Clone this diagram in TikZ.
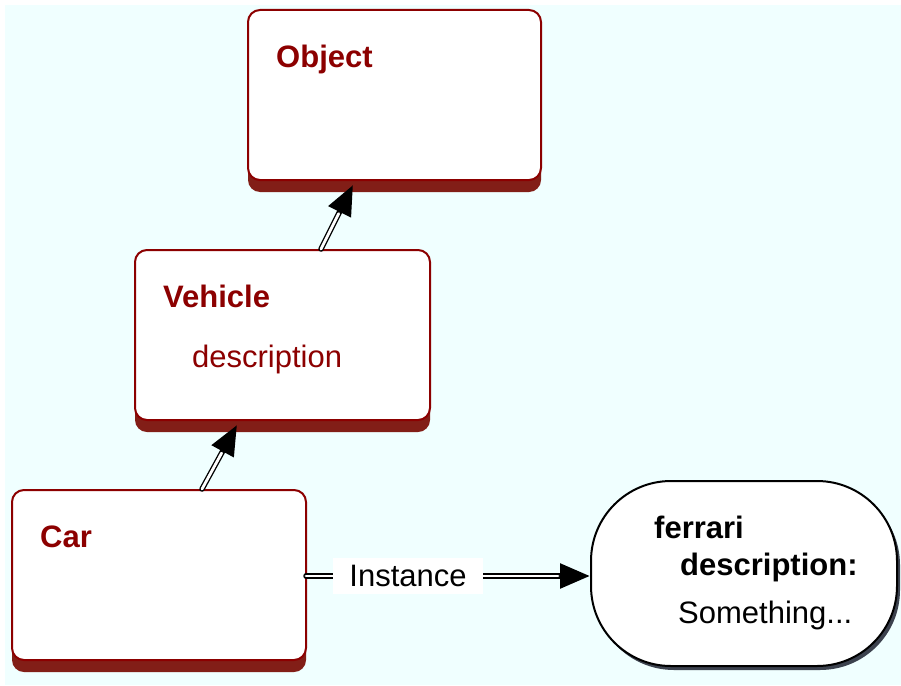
\documentclass[tikz,border=0pt]{standalone}
\usepackage{fontspec}
\setmainfont{Liberation Sans}
\usetikzlibrary{shadows,arrows.meta,calc}
\definecolor{bgcyan}{RGB}{240,255,255}
\definecolor{boxred}{RGB}{140,0,0}
\definecolor{shadowred}{RGB}{130,30,23}
\definecolor{shadowgray}{RGB}{60,66,78}
\tikzset{
  classbox/.style={draw=boxred, line width=2pt, fill=white, rounded corners=12pt,
    minimum width=293pt, minimum height=170pt, inner sep=0pt,
    drop shadow={shadow xshift=0pt, shadow yshift=-12pt, fill=shadowred, opacity=1}},
  instbox/.style={draw=black, line width=2pt, fill=white, rounded corners=80pt,
    minimum width=306pt, minimum height=185pt, inner sep=0pt,
    drop shadow={shadow xshift=3pt, shadow yshift=-4pt, fill=shadowgray, opacity=1}},
  redbold/.style={anchor=base west, inner sep=0pt, text=boxred, font=\fontsize{31}{36}\selectfont\bfseries},
  redreg/.style={anchor=base west, inner sep=0pt, text=boxred, font=\fontsize{31}{36}\selectfont},
  blkbold/.style={anchor=base west, inner sep=0pt, text=black, font=\fontsize{31}{36}\selectfont\bfseries},
  blkreg/.style={anchor=base west, inner sep=0pt, text=black, font=\fontsize{31}{36}\selectfont},
  inh/.style={draw=black, line width=5.5pt, line cap=round,
    -{Triangle[length=30pt,width=24pt]},
    postaction={draw=white, line width=2.8pt, shorten >=32pt, -}},
  lbl/.style={fill=white, inner xsep=16pt, inner ysep=7pt, font=\fontsize{31}{36}\selectfont}
}
\begin{document}
\begin{tikzpicture}[x=1pt,y=-1pt]
\useasboundingbox (0,0) rectangle (901,685);
\fill[bgcyan] (5,5) rectangle (901,685);

\node[classbox] (obj) at (394.5,95) {};
\node[classbox, minimum width=295pt] (veh) at (282.5,335) {};
\node[classbox, minimum width=294pt] (car) at (159,575) {};
\node[instbox] (fer) at (744,573.5) {};

\node[redbold] (tobj) at (276,67) {Object};
\node[redbold] (tveh) at (163,307) {Vehicle};
\node[redreg] (tdesc) at (192,367) {description};
\node[redbold] (tcar) at (40,547) {Car};

\node[blkbold] (tfer) at (654,538) {ferrari};
\node[blkbold] (tfdesc) at (680,575) {description:};
\node[blkreg] (tsome) at (678,623) {Something...};

\draw[inh] ([xshift=187pt]veh.north west) -- ([xshift=106pt,yshift=-4pt]obj.south west);
\draw[inh] ([xshift=191pt]car.north west) -- ([xshift=103pt,yshift=-4pt]veh.south west);
\draw[inh] ([xshift=-1pt,yshift=-1pt]car.east) -- ([yshift=-1pt]car.east -| fer.west)
  node[lbl, midway, xshift=-40pt] (linst) {Instance};
\end{tikzpicture}
\end{document}
